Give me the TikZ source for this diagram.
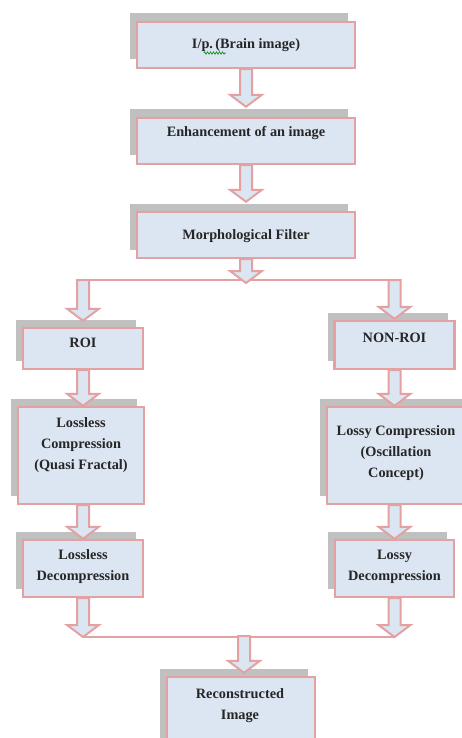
\documentclass[tikz,border=0pt]{standalone}
\usepackage{fontspec}
\setmainfont{Liberation Serif}
\usetikzlibrary{shadows,calc,decorations.pathmorphing}
\definecolor{boxfill}{HTML}{DCE6F2}
\definecolor{boxedge}{HTML}{E3A1A1}
\definecolor{shade}{HTML}{C0C0C0}
\tikzset{
 flowbox/.style={draw=boxedge, line width=2.4pt, fill=boxfill, inner sep=0pt,
   general shadow={fill=shade, shadow xshift=-7pt, shadow yshift=8.5pt}},
 lbl/.style={font=\fontsize{14.3}{21}\selectfont\bfseries, align=center, inner sep=0pt, text=black!85},
 fatarr/.style={draw=boxedge, line width=2pt, fill=boxfill, line join=miter},
 joinline/.style={draw=boxedge, line width=2pt},
}
\newcommand\fatarrow[2]{\path[fatarr] let \p1=#1, \p2=#2 in
  (\x1-6pt,\y1) -- (\x1-6pt,\y2+12pt) -- (\x1-16pt,\y2+12pt) -- (\x1,\y2) --
  (\x1+16pt,\y2+12pt) -- (\x1+6pt,\y2+12pt) -- (\x1+6pt,\y1) -- cycle;}
\begin{document}
\begin{tikzpicture}[x=1pt,y=-1pt]
\useasboundingbox (0,0) rectangle (462,738);
\clip (0,0) rectangle (462,738);
% boxes
\node[flowbox, minimum width=218pt, minimum height=46pt] (b1) at (246,45) {};
\node[flowbox, minimum width=218pt, minimum height=46pt] (b2) at (246,141) {};
\node[flowbox, minimum width=218pt, minimum height=46pt] (b3) at (246,235) {};
\node[flowbox, minimum width=120pt, minimum height=41pt] (roi) at (83,348.5) {};
\node[flowbox, minimum width=120pt, minimum height=48pt] (nonroi) at (394.5,345) {};
\node[flowbox, minimum width=126pt, minimum height=97pt] (lc) at (81,455.5) {};
\node[flowbox, minimum width=143pt, minimum height=97pt] (yc) at (398.5,455.5) {};
\node[flowbox, minimum width=120pt, minimum height=57pt] (ld) at (83,568.5) {};
\node[flowbox, minimum width=119pt, minimum height=57pt] (yd) at (394.5,568.5) {};
\node[flowbox, minimum width=148pt, minimum height=70pt] (rec) at (241,712) {};
% labels
\node[lbl] (t1) at (b1.center) {I/p.\,(Brain image)};
\draw[green!55!black, line width=0.6pt, decorate, decoration={zigzag, amplitude=1.2pt, segment length=3pt}]
  ([xshift=12pt,yshift=-8pt]t1.west) -- ([xshift=34pt,yshift=-8pt]t1.west);
\node[lbl] (t2) at ([yshift=8pt]b2.center) {Enhancement of an image};
\node[lbl] (t3) at ([yshift=-1pt]b3.center) {Morphological Filter};
\node[lbl] (t4) at ([yshift=5.5pt]roi.center) {ROI};
\node[lbl] (t5) at ([yshift=7pt]nonroi.center) {NON-ROI};
\node[lbl] (t6) at ([yshift=10pt]lc.center) {Lossless\\Compression\\(Quasi Fractal)};
\node[lbl] (t7) at (396,453) {Lossy Compression\\(Oscillation\\Concept)};
\node[lbl] (t8) at ([yshift=1.5pt]ld.center) {Lossless\\Decompression};
\node[lbl] (t9) at ([yshift=1.5pt]yd.center) {Lossy\\Decompression};
\node[lbl] (t10) at (240,706) {Reconstructed\\Image};
% junction points
\coordinate (split) at (246,280);
\coordinate (sl) at (83,280);
\coordinate (sr) at (394.5,280);
\coordinate (ml) at (83,637);
\coordinate (mr) at (394.5,637);
\coordinate (merge) at (244,636);
\draw[joinline] ([xshift=-6pt]sl) -- ([xshift=6pt]sr);
\draw[joinline] (ml) -- (mr);
% fat arrows
\fatarrow{(b1.south)}{([yshift=10pt]b2.north)}
\fatarrow{(b2.south)}{([yshift=9pt]b3.north)}
\fatarrow{(b3.south)}{([yshift=-3pt]split)}
\fatarrow{(sl)}{([yshift=6pt]roi.north)}
\fatarrow{(sr)}{([yshift=1pt]nonroi.north)}
\fatarrow{(roi.south)}{(roi.south |- lc.north)}
\fatarrow{(nonroi.south)}{(nonroi.south |- yc.north)}
\fatarrow{(ld.north |- lc.south)}{(ld.north)}
\fatarrow{(yd.north |- yc.south)}{(yd.north)}
\fatarrow{(ld.south)}{(ml)}
\fatarrow{(yd.south)}{(mr)}
\fatarrow{(merge)}{([yshift=3pt]rec.north -| merge)}
\end{tikzpicture}
\end{document}
